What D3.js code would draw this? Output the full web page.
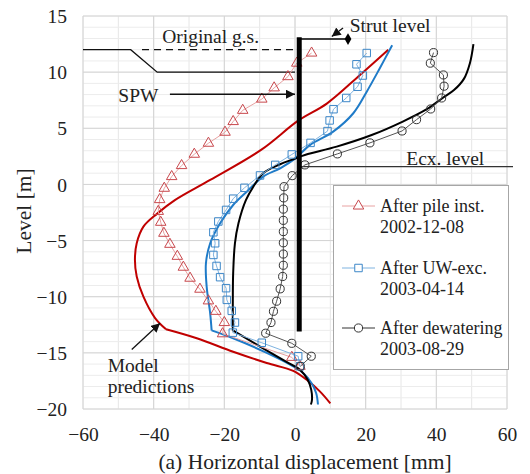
<!DOCTYPE html>
<html>
<head>
<meta charset="utf-8">
<script src="https://cdn.jsdelivr.net/npm/d3@7"></script>
<style>
  html, body { margin: 0; padding: 0; background: #fff; }
  svg { display: block; font-family: "Liberation Serif", "Times New Roman", serif; }
  svg text { font-family: "Liberation Serif", "Times New Roman", serif; }
</style>
</head>
<body>
<svg id="chart" width="530" height="474"></svg>
<script>
// ---------------- DATA ----------------
const xTicks = [-60, -40, -20, 0, 20, 40, 60];
const yTicks = [-20, -15, -10, -5, 0, 5, 10, 15];

// measured: [displacement mm, level m]
const pileInst = [[4.7,11.7],[0.5,10.8],[-2,9.6],[-5.9,8.6],[-9.4,7.6],[-14.8,6.6],[-17.5,5.6],[-19.8,4.65],[-24.5,3.67],[-28.5,2.69],[-32.1,1.68],[-34.9,0.7],[-37,-0.34],[-38.3,-1.35],[-38.7,-2.4],[-38,-3.37],[-37.1,-4.35],[-35.4,-5.33],[-33.3,-6.4],[-31.6,-7.37],[-29.7,-8.35],[-26.9,-9.33],[-24.5,-10.37],[-22.4,-11.3],[-20,-12.3],[-20.5,-13.3],[-0.9,-15.4],[1.4,-16.2]];
const uwExc = [[20.3,11.7],[17.4,10.7],[19.2,9.7],[17.7,8.7],[14.5,7.7],[10.9,6.7],[9.8,5.7],[9.2,4.75],[4.4,3.7],[-0.9,2.67],[-5.6,1.74],[-9.9,0.8],[-14.3,-0.3],[-17.5,-1.27],[-19.5,-2.27],[-21.7,-3.3],[-23.1,-4.26],[-22.6,-5.24],[-23.1,-6.28],[-22.2,-7.26],[-21.2,-8.26],[-19.5,-9.24],[-19.3,-10.28],[-17.9,-11.26],[-17,-12.3],[-17.6,-13.2],[-9.4,-14.1],[0.9,-15.3],[1.4,-16.2]];
const dewatering = [[39.2,11.74],[38.3,10.8],[42,9.75],[42.2,8.75],[41.5,7.7],[38.4,6.72],[34.4,5.77],[30.3,4.76],[21.2,3.7],[12,2.72],[2.8,1.74],[-0.8,0.78],[-3.1,-0.2],[-3.2,-1.2],[-3.3,-2.2],[-3.3,-3.2],[-3.3,-4.2],[-3.3,-5.2],[-3.3,-6.2],[-3.3,-7.2],[-3.5,-8.2],[-4.2,-9.3],[-5.2,-10.4],[-6.1,-11.3],[-6.8,-12.3],[-8.3,-13.25],[-0.9,-14.15],[4.6,-15.3],[1.5,-16.2]];

// model predictions (upper part down to the toe kink, then lower part)
const modelPile = [[26.4,12.0],[18.4,9.75],[9,7.2],[1,5.7],[-9.5,3.1],[-24,0.4],[-34,-1.4],[-39,-2.6],[-42.9,-3.76],[-44.8,-5.24],[-45.3,-6.72],[-44.8,-8.2],[-42.9,-10],[-39.6,-11.9],[-36.5,-12.9],[-27.8,-13.7],[-17.5,-14.9],[-8,-15.9],[-0.5,-16.6],[3.3,-17.4],[7.1,-18.45],[10,-19.5]];
const modelUW = [[27.5,12.4],[24,10.35],[20.3,8.26],[16.5,6.34],[10.8,4.7],[4.2,3.5],[0,2.3],[-4.2,1.44],[-9,0.7],[-13.5,-0.6],[-17.5,-1.83],[-21.2,-3.46],[-24,-5.24],[-25.2,-7],[-25,-9.1],[-24,-11.5],[-23.6,-13],[-17.5,-13.7],[-8,-15],[-0.5,-16.2],[2,-16.7],[4.7,-17.7],[6,-18.6],[6.5,-19.6]];
const modelDew = [[50.5,12.5],[49.5,10.8],[47.8,9.4],[45,8.4],[41.8,7.7],[37.3,6.7],[30.5,5.6],[21.7,4.4],[11.8,3.37],[3,2.65],[0,2.3],[-4.2,1.8],[-9,1.0],[-11.8,-0.2],[-13.9,-1.4],[-16,-3.46],[-17,-5.24],[-17.5,-7.9],[-17.6,-10.3],[-17.6,-13],[-9.9,-14.44],[-2.4,-15.8],[1.4,-16.5],[3.6,-17.4],[4.6,-18.3],[4.8,-19.2],[4.5,-19.6]];
const toeKinkLevel = -13.05;

// annotations (data coordinates)
const wall = [[1.2,13.1],[1.2,-13.1]];
const strut = [[1.2,12.95],[15,12.95]];
const groundNow = [[-60,12],[-46.5,12],[-39,10],[0,10]];
const groundOrig = [[-43.3,12],[0,12]];
const excLevel = [[1.2,1.58],[61.7,1.58]];

const legendLabels = [["After pile inst.","2002-12-08"],["After UW-exc.","2003-04-14"],["After dewatering","2003-08-29"]];

// ---------------- CHART ----------------
const FONT = "Liberation Serif";
const svg = d3.select("#chart");
const x = d3.scaleLinear().domain([-60, 60]).range([83, 507]);
const y = d3.scaleLinear().domain([-20, 15]).range([409, 16]);
const line = d3.line().x(d => x(d[0])).y(d => y(d[1]));
const smooth = d3.line().x(d => x(d[0])).y(d => y(d[1])).curve(d3.curveCatmullRom.alpha(0.5));
function modelPath(data) {
  let k = 0;
  data.forEach((d, i) => { if (d[1] >= toeKinkLevel) k = i; });
  return smooth(data.slice(0, k + 1)) + smooth(data.slice(k));
}

const grid = svg.append("g");
grid.selectAll(".vminor").data(d3.range(-60, 61, 10)).join("line")
  .attr("x1", d => x(d)).attr("x2", d => x(d)).attr("y1", y(-20)).attr("y2", y(15))
  .attr("stroke", "#e6e6e6").attr("stroke-width", 1);
grid.selectAll(".hminor").data(d3.range(-20, 16, 1)).join("line")
  .attr("y1", d => y(d)).attr("y2", d => y(d)).attr("x1", x(-60)).attr("x2", x(60))
  .attr("stroke", "#ececec").attr("stroke-width", 1);
grid.selectAll(".vmajor").data(xTicks).join("line")
  .attr("x1", d => x(d)).attr("x2", d => x(d)).attr("y1", y(-20)).attr("y2", y(15))
  .attr("stroke", "#d4d4d4").attr("stroke-width", 1);
grid.selectAll(".hmajor").data(yTicks).join("line")
  .attr("y1", d => y(d)).attr("y2", d => y(d)).attr("x1", x(-60)).attr("x2", x(60))
  .attr("stroke", "#d4d4d4").attr("stroke-width", 1);

const xAxis = d3.axisBottom(x).tickValues(xTicks).tickSize(0).tickPadding(0).tickFormat(d3.format("d"));
const gx = svg.append("g").attr("transform", `translate(0,${y(-20)})`).call(xAxis)
  .attr("font-family", FONT).attr("font-size", 19.5);
gx.select(".domain").remove();
gx.selectAll("text").attr("dy", "0").attr("y", 32).attr("fill", "#222");
const yAxis = d3.axisLeft(y).tickValues(yTicks).tickSize(0).tickPadding(0).tickFormat(d3.format("d"));
const gy = svg.append("g").attr("transform", `translate(${x(-60)},0)`).call(yAxis)
  .attr("font-family", FONT).attr("font-size", 19.5);
gy.select(".domain").remove();
gy.selectAll("text").attr("x", -16).attr("dy", "0.34em").attr("fill", "#222");

svg.append("text").attr("x", 305).attr("y", 469).attr("text-anchor", "middle")
  .attr("font-size", 21.5).attr("fill", "#222").text("(a) Horizontal displacement [mm]");
svg.append("text").attr("transform", `translate(31,211) rotate(-90)`)
  .attr("text-anchor", "middle").attr("font-size", 21.5).attr("fill", "#222").text("Level [m]");

// annotations
svg.append("path").attr("d", line(groundNow)).attr("fill", "none").attr("stroke", "#111").attr("stroke-width", 1.3);
svg.append("path").attr("d", line(groundOrig)).attr("fill", "none").attr("stroke", "#111").attr("stroke-width", 1.3).attr("stroke-dasharray", "7,5");
svg.append("path").attr("d", line(excLevel)).attr("fill", "none").attr("stroke", "#333").attr("stroke-width", 1.3);

const defs = svg.append("defs");
defs.append("marker").attr("id", "arr").attr("viewBox", "0 0 10 10").attr("refX", 10).attr("refY", 5)
  .attr("markerWidth", 9).attr("markerHeight", 9).attr("markerUnits", "userSpaceOnUse").attr("orient", "auto")
  .append("path").attr("d", "M0,0 L10,5 L0,10 Z").attr("fill", "#111");

// model lines
svg.append("path").attr("d", modelPath(modelPile)).attr("fill", "none").attr("stroke", "#c00000").attr("stroke-width", 2);
svg.append("path").attr("d", modelPath(modelUW)).attr("fill", "none").attr("stroke", "#1f7bc8").attr("stroke-width", 2);
svg.append("path").attr("d", modelPath(modelDew)).attr("fill", "none").attr("stroke", "#000").attr("stroke-width", 2);

// measured series
const series = [
  {data: pileInst, line: "#e8a2a2", stroke: "#c8484d", shape: d3.symbolTriangle, size: 48},
  {data: uwExc, line: "#7fb3e0", stroke: "#3d87c8", shape: d3.symbolSquare, size: 56},
  {data: dewatering, line: "#555", stroke: "#333", shape: d3.symbolCircle, size: 52}
];
series.forEach(s => {
  svg.append("path").attr("d", line(s.data)).attr("fill", "none").attr("stroke", s.line).attr("stroke-width", 1);
  svg.append("g").selectAll("path").data(s.data).join("path")
    .attr("transform", d => `translate(${x(d[0])},${y(d[1])})`)
    .attr("d", d3.symbol().type(s.shape).size(s.size))
    .attr("fill", "none").attr("stroke", s.stroke).attr("stroke-width", 1);
});

// wall and strut
svg.append("path").attr("d", line(wall)).attr("stroke", "#000").attr("stroke-width", 5);
svg.append("path").attr("d", line(strut)).attr("stroke", "#000").attr("stroke-width", 1.3);
svg.append("path").attr("transform", `translate(${x(strut[1][0])},${y(strut[1][1])})`)
  .attr("d", d3.symbol().type(d3.symbolDiamond).size(40)).attr("fill", "#000");

// annotation texts and arrows
const ann = svg.append("g").attr("font-size", 19.5).attr("fill", "#222");
ann.append("text").attr("x", x(-37.6)).attr("y", y(12.6)).text("Original g.s.");
ann.append("text").attr("x", x(15.5)).attr("y", y(13.6)).text("Strut level");
svg.append("line").attr("x1", x(13.6)).attr("y1", y(13.94)).attr("x2", x(10.4)).attr("y2", y(13.17))
  .attr("stroke", "#111").attr("stroke-width", 1.3).attr("marker-end", "url(#arr)");
ann.append("text").attr("x", x(-50)).attr("y", y(7.35)).text("SPW");
svg.append("line").attr("x1", x(-35.4)).attr("y1", y(8.03)).attr("x2", x(0)).attr("y2", y(8.03))
  .attr("stroke", "#111").attr("stroke-width", 1.3).attr("marker-end", "url(#arr)");
ann.append("text").attr("x", x(31.5)).attr("y", y(1.75)).text("Ecx. level");
ann.append("text").attr("x", x(-53)).attr("y", y(-16.67)).text("Model");
ann.append("text").attr("x", x(-53)).attr("y", y(-18.6)).text("predictions");
svg.append("line").attr("x1", x(-46.2)).attr("y1", y(-14.7)).attr("x2", x(-38.2)).attr("y2", y(-12.36))
  .attr("stroke", "#111").attr("stroke-width", 1.3).attr("marker-end", "url(#arr)");

// legend
const lg = svg.append("g");
lg.append("rect").attr("x", 333.5).attr("y", 185.5).attr("width", 175).attr("height", 184)
  .attr("fill", "#fff").attr("stroke", "#a6a6a6").attr("stroke-width", 1);
const rowY = [206, 268, 328];
series.forEach((s, i) => {
  const g = lg.append("g").attr("transform", `translate(0,${rowY[i]})`);
  g.append("line").attr("x1", 342).attr("x2", 375).attr("y1", 0).attr("y2", 0).attr("stroke", i === 2 ? "#333" : s.line).attr("stroke-width", 1);
  g.append("path").attr("transform", "translate(358.5,0)").attr("d", d3.symbol().type(s.shape).size(s.size))
    .attr("fill", "#fff").attr("stroke", s.stroke).attr("stroke-width", 1);
  g.append("text").attr("x", 380).attr("y", 6).attr("font-size", 18).attr("fill", "#222").text(legendLabels[i][0]);
  g.append("text").attr("x", 380).attr("y", 27).attr("font-size", 18).attr("fill", "#222").text(legendLabels[i][1]);
});
</script>
</body>
</html>
